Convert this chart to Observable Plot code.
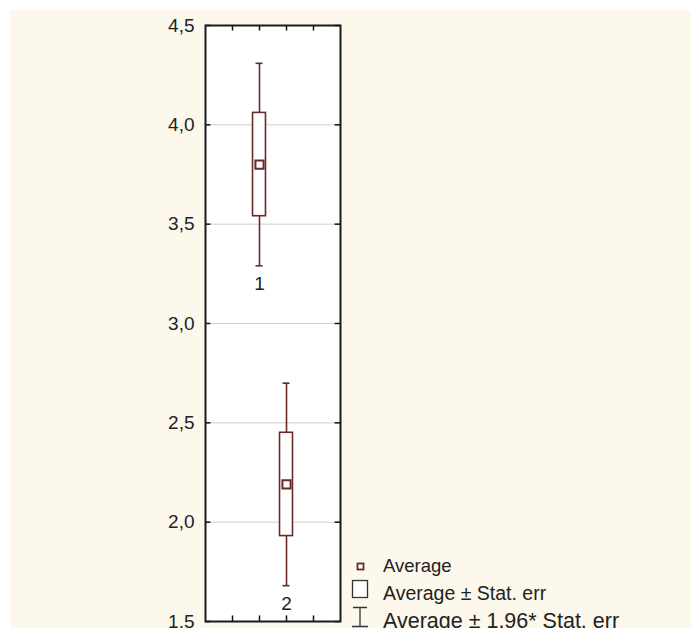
<!DOCTYPE html>
<html>
<head>
<meta charset="utf-8">
<script src="https://cdn.jsdelivr.net/npm/d3@7"></script>
<script src="https://cdn.jsdelivr.net/npm/@observablehq/plot@0.6"></script>
<style>
  html, body { margin: 0; padding: 0; background: #fff; }
  #wrap { position: relative; width: 691px; height: 628px; overflow: hidden; font-family: "Liberation Sans", Arial, sans-serif; }
  #cream { position: absolute; left: 10px; top: 10px; right: 0; bottom: 0; background: #fdf8ec; }
  #chart { position: absolute; left: 0; top: 0; }
  #icons { position: absolute; left: 0; top: 0; overflow: visible; }
  .lg { position: absolute; left: 383px; color: #222; white-space: nowrap; line-height: 24px; }
</style>
</head>
<body>
<div id="wrap">
  <div id="cream"></div>
  <div id="chart"></div>
  <svg id="icons" width="691" height="628">
    <rect x="357.5" y="563.5" width="6" height="6" fill="white" stroke="#6a2a2a" stroke-width="1.8"/>
    <rect x="352.5" y="580.5" width="15" height="17" fill="white" stroke="#333" stroke-width="1.3"/>
    <path d="M353,607.5H367M360,607.5V626.5M352,626.5H368" fill="none" stroke="#333" stroke-width="1.3"/>
  </svg>
  <div class="lg" style="top:554px; font-size:18.5px;">Average</div>
  <div class="lg" style="top:581px; font-size:19.5px;">Average ± Stat. err</div>
  <div class="lg" style="top:609px; font-size:21.5px;">Average ± 1,96* Stat. err</div>
</div>
<script>
const groups = ["1", "2"];
const positions = [2, 3];
const means = [3.80, 2.19];
const stdErrs = [0.26, 0.26];
const yTicks = [1.5, 2.0, 2.5, 3.0, 3.5, 4.0, 4.5];
const xTicks = [1, 2, 3, 4];

const maroon = "#6a2a2a";
const data = groups.map((g, i) => ({
  group: g,
  pos: positions[i],
  mean: means[i],
  lo: means[i] - stdErrs[i],
  hi: means[i] + stdErrs[i],
  lo95: means[i] - 1.96 * stdErrs[i],
  hi95: means[i] + 1.96 * stdErrs[i]
}));

const fmt = d => d3.format(".1f")(d).replace(".", ",");

const chart = Plot.plot({
  width: 691,
  height: 628,
  marginLeft: 205,
  marginRight: 351,
  marginTop: 25,
  marginBottom: 7,
  style: { background: "transparent", overflow: "visible", fontFamily: "'Liberation Sans', Arial, sans-serif", fontSize: "19px" },
  x: { domain: [0, 5], axis: null },
  y: { domain: [1.5, 4.5], axis: null },
  marks: [
    Plot.frame({ fill: "white" }),
    Plot.gridY(yTicks, { stroke: "#cfcfcf", strokeOpacity: 1, strokeWidth: 1 }),
    Plot.axisY({ ticks: yTicks, tickFormat: fmt, tickSize: 0, tickPadding: 11, fontSize: 19, fill: "#222", label: null }),
    Plot.ruleY(yTicks, { x1: 0, x2: 0.2, stroke: "#111", strokeWidth: 1.5 }),
    Plot.ruleY(yTicks, { x1: 4.8, x2: 5, stroke: "#111", strokeWidth: 1.5 }),
    Plot.ruleX(xTicks, { y1: 4.5, y2: 4.472, stroke: "#111", strokeWidth: 1.5 }),
    Plot.ruleX(xTicks, { y1: 1.5, y2: 1.528, stroke: "#111", strokeWidth: 1.5 }),
    Plot.ruleX(data, { x: "pos", y1: "lo95", y2: "hi95", stroke: maroon, strokeWidth: 1.6 }),
    Plot.ruleY(data, { y: "hi95", x1: d => d.pos - 0.13, x2: d => d.pos + 0.13, stroke: maroon, strokeWidth: 1.6 }),
    Plot.ruleY(data, { y: "lo95", x1: d => d.pos - 0.13, x2: d => d.pos + 0.13, stroke: maroon, strokeWidth: 1.6 }),
    Plot.rect(data, { x1: d => d.pos - 0.24, x2: d => d.pos + 0.24, y1: "lo", y2: "hi", fill: "white", stroke: maroon, strokeWidth: 1.6 }),
    Plot.dot(data, { x: "pos", y: "mean", symbol: "square", r: 4.6, fill: "white", stroke: maroon, strokeWidth: 2 }),
    Plot.text(data, { x: "pos", y: "lo95", text: "group", dy: 18, fontSize: 19, fill: "#222" }),
    Plot.frame({ stroke: "#1a1a1a", strokeWidth: 2 })
  ]
});
document.getElementById("chart").appendChild(chart);
</script>
</body>
</html>
